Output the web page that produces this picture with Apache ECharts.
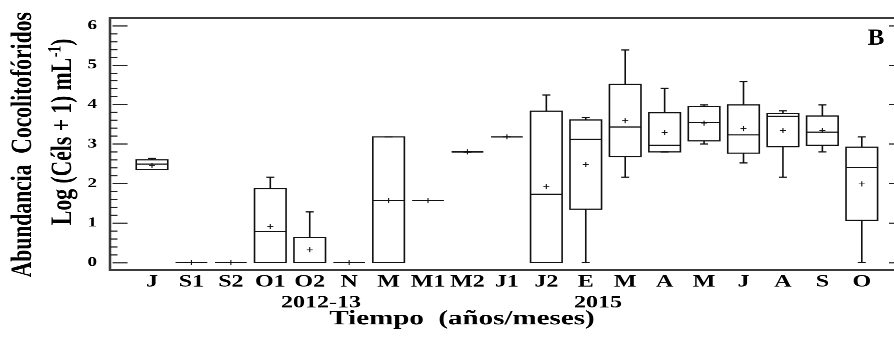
<!DOCTYPE html>
<html>
<head>
<meta charset="utf-8">
<script src="https://cdn.jsdelivr.net/npm/echarts@6/dist/echarts.min.js"></script>
<style>
  html, body { margin: 0; padding: 0; width: 894px; height: 337px; overflow: hidden; background: #fff; }
  /* the figure is laid out tall and then squeezed vertically */
  #chart { width: 894px; height: 468px; transform: scaleY(0.72); transform-origin: 0 0; }
</style>
</head>
<body>
<div id="chart"></div>
<script>
// Sampling months (2012-13 and 2015)
const months = ['J', 'S1', 'S2', 'O1', 'O2', 'N', 'M', 'M1', 'M2', 'J1', 'J2', 'E', 'M', 'A', 'M', 'J', 'A', 'S', 'O'];

// Log(cells + 1) mL-1 box statistics per month
const minVals    = [2.35, 0, 0, 0,    0,    0, 0,    1.57, 2.80, 3.18, 0,    0,    2.16, 2.80, 3.00, 2.52, 2.16, 2.80, 0];
const q1Vals     = [2.35, 0, 0, 0,    0,    0, 0,    1.57, 2.80, 3.18, 0,    1.35, 2.68, 2.80, 3.08, 2.77, 2.93, 2.97, 1.07];
const medianVals = [2.49, 0, 0, 0.79, 0,    0, 1.57, 1.57, 2.80, 3.18, 1.73, 3.12, 3.43, 2.97, 3.55, 3.23, 3.70, 3.30, 2.41];
const q3Vals     = [2.60, 0, 0, 1.87, 0.63, 0, 3.18, 1.57, 2.80, 3.18, 3.83, 3.61, 4.51, 3.79, 3.95, 3.99, 3.77, 3.71, 2.92];
const maxVals    = [2.64, 0, 0, 2.16, 1.28, 0, 3.18, 1.57, 2.80, 3.18, 4.24, 3.67, 5.38, 4.41, 3.99, 4.58, 3.84, 3.99, 3.18];
const meanVals   = [2.46, 0, 0, 0.91, 0.32, 0, 1.57, 1.57, 2.80, 3.18, 1.92, 2.48, 3.59, 3.29, 3.53, 3.39, 3.34, 3.34, 1.99];

const yTicks = [0, 1, 2, 3, 4, 5, 6];
const yMinorTicks = [];
for (let v = 0; v < 6; v++) {
  for (let k = 1; k < 5; k++) yMinorTicks.push(+(v + k * 0.2).toFixed(1));
}
const monthPositions = months.map((_, i) => i + 1);

const boxData = months.map((_, i) => [i + 1, minVals[i], q1Vals[i], medianVals[i], q3Vals[i], maxVals[i], meanVals[i]]);

const SERIF = '"Liberation Serif", "Times New Roman", serif';
const INK = '#111';

function renderBox(params, api) {
  const x = api.value(0);
  const pMin = api.coord([x, api.value(1)]);
  const pQ1 = api.coord([x, api.value(2)]);
  const pMed = api.coord([x, api.value(3)]);
  const pQ3 = api.coord([x, api.value(4)]);
  const pMax = api.coord([x, api.value(5)]);
  const pMean = api.coord([x, api.value(6)]);
  const cx = pQ1[0];
  const half = api.size([1, 0])[0] * 0.4;
  const cap = 4;
  const line = { stroke: INK, lineWidth: 1.6, fill: null };
  const kids = [];
  // whiskers
  if (pMax[1] < pQ3[1]) {
    kids.push({ type: 'line', shape: { x1: cx, y1: pQ3[1], x2: cx, y2: pMax[1] }, style: line });
  }
  if (pMin[1] > pQ1[1]) {
    kids.push({ type: 'line', shape: { x1: cx, y1: pQ1[1], x2: cx, y2: pMin[1] }, style: line });
  }
  kids.push({ type: 'line', shape: { x1: cx - cap, y1: pMax[1], x2: cx + cap, y2: pMax[1] }, style: line });
  kids.push({ type: 'line', shape: { x1: cx - cap, y1: pMin[1], x2: cx + cap, y2: pMin[1] }, style: line });
  // box
  kids.push({ type: 'rect', shape: { x: cx - half, y: pQ3[1], width: half * 2, height: pQ1[1] - pQ3[1] }, style: line });
  // median
  kids.push({ type: 'line', shape: { x1: cx - half, y1: pMed[1], x2: cx + half, y2: pMed[1] }, style: line });
  // mean marker
  const pl = { stroke: INK, lineWidth: 1.1 };
  kids.push({ type: 'line', shape: { x1: cx - 3, y1: pMean[1], x2: cx + 3, y2: pMean[1] }, style: pl });
  kids.push({ type: 'line', shape: { x1: cx, y1: pMean[1] - 3.5, x2: cx, y2: pMean[1] + 3.5 }, style: pl });
  return { type: 'group', children: kids };
}

const yRange = { min: -0.19, max: 6.19 };
const noLine = { show: false };

const chart = echarts.init(document.getElementById('chart'), null, { renderer: 'canvas', devicePixelRatio: 2 });
chart.setOption({
  animation: false,
  backgroundColor: '#fff',
  grid: {
    left: 110, top: 25, width: 794, height: 350,
    outerBoundsMode: 'none', containLabel: false,
    show: true, borderColor: '#3c3c3c', borderWidth: 2.5, backgroundColor: 'transparent'
  },
  xAxis: {
    type: 'value', min: -0.065, max: 20.07,
    axisLine: noLine, axisTick: noLine, splitLine: noLine,
    axisLabel: {
      customValues: monthPositions,
      formatter: v => months[Math.round(v) - 1] || '',
      fontFamily: SERIF, fontWeight: 'bold', fontSize: 24, color: '#000', margin: 5
    }
  },
  yAxis: [
    {
      type: 'value', position: 'left', ...yRange,
      axisLine: noLine, splitLine: noLine,
      axisTick: { show: true, inside: true, length: 15, customValues: yTicks, lineStyle: { color: '#222', width: 1.6 } },
      axisLabel: { customValues: yTicks, fontFamily: SERIF, fontWeight: 'bold', fontSize: 19, color: '#000', margin: 13 }
    },
    {
      type: 'value', position: 'left', ...yRange,
      axisLine: noLine, splitLine: noLine, axisLabel: { show: false },
      axisTick: { show: true, inside: true, length: 7.5, customValues: yMinorTicks, lineStyle: { color: '#222', width: 1.6 } }
    },
    {
      type: 'value', position: 'right', ...yRange,
      axisLine: noLine, splitLine: noLine, axisLabel: { show: false },
      axisTick: { show: true, inside: true, length: 15, customValues: yTicks, lineStyle: { color: '#222', width: 1.6 } }
    },
    {
      type: 'value', position: 'right', ...yRange,
      axisLine: noLine, splitLine: noLine, axisLabel: { show: false },
      axisTick: { show: true, inside: true, length: 7.5, customValues: yMinorTicks, lineStyle: { color: '#222', width: 1.6 } }
    }
  ],
  series: [{
    type: 'custom',
    xAxisIndex: 0, yAxisIndex: 0,
    renderItem: renderBox,
    encode: { x: 0, y: [1, 2, 3, 4, 5, 6] },
    data: boxData,
    clip: false
  }],
  graphic: [
    {
      type: 'text', x: 23, y: 201, rotation: Math.PI / 2, silent: true,
      style: {
        text: 'Abundancia  Cocolitofóridos', fill: '#000',
        fontFamily: SERIF, fontWeight: 'bold', fontSize: 30,
        align: 'center', verticalAlign: 'middle', textAlign: 'center', textVerticalAlign: 'middle'
      }
    },
    {
      type: 'text', x: 63, y: 183, rotation: Math.PI / 2, silent: true,
      style: {
        text: 'Log (Céls + 1) mL{sup|-1})', fill: '#000',
        fontFamily: SERIF, fontWeight: 'bold', fontSize: 30, lineHeight: 34,
        align: 'center', verticalAlign: 'middle', textAlign: 'center', textVerticalAlign: 'middle',
        rich: {
          sup: { fontFamily: SERIF, fontWeight: 'bold', fontSize: 19, lineHeight: 19, verticalAlign: 'top', padding: [0, 0, 0, 1] }
        }
      }
    },
    {
      type: 'text', x: 321, y: 421, silent: true,
      style: { text: '2012-13', fill: '#000', fontFamily: SERIF, fontWeight: 'bold', fontSize: 24,
        align: 'center', verticalAlign: 'middle', textAlign: 'center', textVerticalAlign: 'middle' }
    },
    {
      type: 'text', x: 598, y: 421, silent: true,
      style: { text: '2015', fill: '#000', fontFamily: SERIF, fontWeight: 'bold', fontSize: 24,
        align: 'center', verticalAlign: 'middle', textAlign: 'center', textVerticalAlign: 'middle' }
    },
    {
      type: 'text', x: 462, y: 443, silent: true,
      style: { text: 'Tiempo  (años/meses)', fill: '#000', fontFamily: SERIF, fontWeight: 'bold', fontSize: 29,
        align: 'center', verticalAlign: 'middle', textAlign: 'center', textVerticalAlign: 'middle' }
    },
    {
      type: 'text', x: 876, y: 54, scaleY: 1.26, silent: true,
      style: { text: 'B', fill: '#000', fontFamily: SERIF, fontWeight: 'bold', fontSize: 25,
        align: 'center', verticalAlign: 'middle', textAlign: 'center', textVerticalAlign: 'middle' }
    }
  ]
});
</script>
</body>
</html>
